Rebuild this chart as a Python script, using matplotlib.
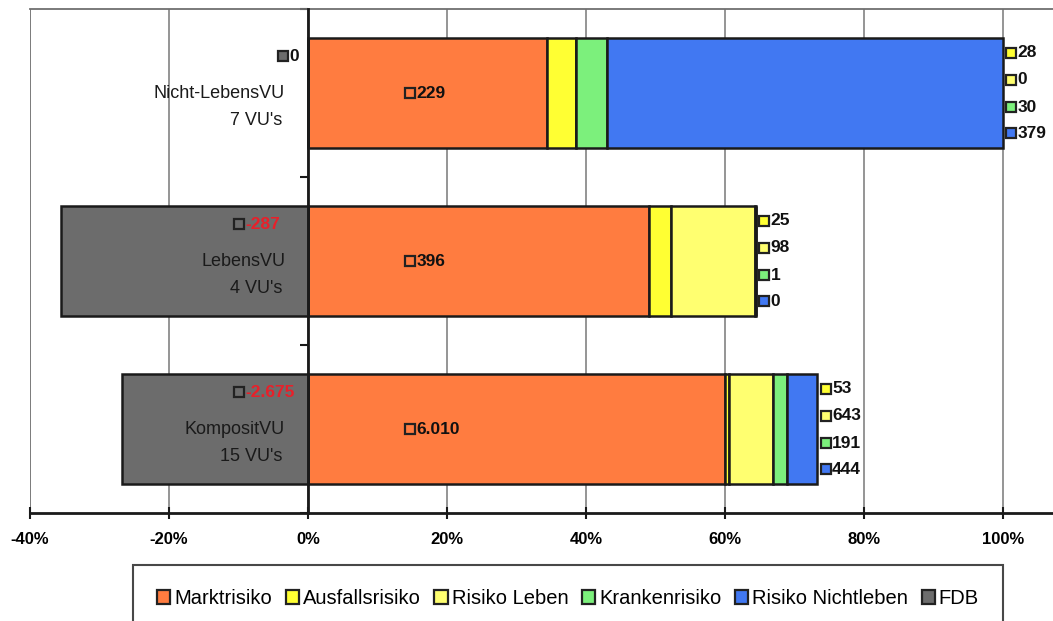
import matplotlib.pyplot as plt
import numpy as np
from matplotlib.patches import Patch

plt.rcParams['font.family'] = ['Liberation Sans', 'DejaVu Sans']

# Daten je Unternehmenstyp
kategorien = ["Nicht-LebensVU", "LebensVU", "KompositVU"]
anzahl = ["7 VU's", "4 VU's", "15 VU's"]
marktrisiko = [229, 396, 6010]
ausfallsrisiko = [28, 25, 53]
risiko_leben = [0, 98, 643]
krankenrisiko = [30, 1, 191]
risiko_nichtleben = [379, 0, 444]
fdb = [0, -287, -2675]

serien = ["Marktrisiko", "Ausfallsrisiko", "Risiko Leben", "Krankenrisiko", "Risiko Nichtleben", "FDB"]
farben = ["#FF7C40", "#FFFF33", "#FFFF70", "#7CF07C", "#4178F2", "#6C6C6C"]
xticks = [-0.4, -0.2, 0.0, 0.2, 0.4, 0.6, 0.8, 1.0]

werte = np.array([marktrisiko, ausfallsrisiko, risiko_leben, krankenrisiko, risiko_nichtleben, fdb], dtype=float)
summe = np.abs(werte).sum(axis=0)
anteile = werte / summe

def fmt(v):
    return f"{v:,.0f}".replace(",", ".")

fig = plt.figure(figsize=(10.53, 6.21), dpi=100)
ax = fig.add_axes([30 / 1053, 1 - 513 / 621, 1023 / 1053, 504 / 621])

y = np.arange(len(kategorien))
hoehe = 0.65

# gestapelte positive Anteile
links = np.zeros(len(kategorien))
for i in range(5):
    ax.barh(y, anteile[i], left=links, height=hoehe, color=farben[i],
            edgecolor="#1a1a1a", linewidth=1.8, zorder=3)
    links += anteile[i]
# FDB nach links
ax.barh(y, anteile[5], height=hoehe, color=farben[5],
        edgecolor="#1a1a1a", linewidth=1.8, zorder=3)

ax.set_xlim(-0.4, 1.072)
ax.set_ylim(2.5, -0.5)

# Gitter und Rahmen
for xt in xticks[1:]:
    ax.axvline(xt, color="#8c8c8c", linewidth=1.3, zorder=1)
ax.spines['top'].set_color("#707070")
ax.spines['top'].set_linewidth(1.3)
ax.spines['right'].set_visible(False)
ax.spines['bottom'].set_color("#1a1a1a")
ax.spines['bottom'].set_linewidth(2)
ax.spines['left'].set_position(('data', 0))
ax.spines['left'].set_color("#1a1a1a")
ax.spines['left'].set_linewidth(2)
ax.spines['left'].set_zorder(4)
ax.axvline(-0.4, color="#707070", linewidth=1.3, zorder=1)

ax.set_yticks([-0.5, 0.5, 1.5, 2.5])
ax.set_yticklabels([])
ax.tick_params(axis='y', direction='out', length=6, width=1.5, color="#1a1a1a")
ax.set_xticks(xticks)
ax.set_xticklabels([f"{t * 100:.0f}%" for t in xticks], fontsize=12, fontweight='bold')
ax.tick_params(axis='x', direction='inout', length=9, width=1.5, color="#1a1a1a", pad=9)

def label(xp, yp, text, farbe, textfarbe="#111111"):
    ax.plot(xp, yp, marker='s', markersize=7, markerfacecolor=farbe,
            markeredgecolor="#222222", markeredgewidth=1.6, zorder=6, clip_on=False)
    ax.text(xp + 0.009, yp, text, fontsize=12.5, fontweight='bold', color=textfarbe,
            va='center', ha='left', zorder=6)

for j in range(len(kategorien)):
    # Kategoriebeschriftung
    ax.text(-0.033, y[j], kategorien[j], fontsize=13, ha='right', va='center', color="#1a1a1a", zorder=6)
    ax.text(-0.037, y[j] + 0.165, anzahl[j], fontsize=13, ha='right', va='center', color="#1a1a1a", zorder=6)
    # Marktrisiko
    label(0.147, y[j], fmt(marktrisiko[j]), farben[0])
    # FDB
    fx = -0.036 if fdb[j] == 0 else -0.099
    label(fx, y[j] - 0.22, fmt(fdb[j]), farben[5], "#111111" if fdb[j] >= 0 else "#E8202A")
    # übrige Risiken rechts neben dem Balken
    ende = anteile[:5, j].sum()
    for k, dy in zip(range(1, 5), [-0.24, -0.08, 0.085, 0.24]):
        label(ende + 0.012, y[j] + dy, fmt(werte[k, j]), farben[k])

handles = [Patch(facecolor=c, edgecolor="#222222", linewidth=1.6) for c in farben]
leg = fig.legend(handles, serien, loc='upper left', bbox_to_anchor=(133 / 1053, 1 - 565 / 621, 870 / 1053, 0),
                 mode='expand', ncol=6, fontsize=14.5, frameon=True, fancybox=False,
                 handlelength=0.65, handleheight=0.65, handletextpad=0.2, borderaxespad=0,
                 borderpad=1.2, columnspacing=0.8)
leg.get_frame().set_edgecolor("#1a1a1a")
leg.get_frame().set_linewidth(1.5)

fig.savefig("out.png", dpi=100)
